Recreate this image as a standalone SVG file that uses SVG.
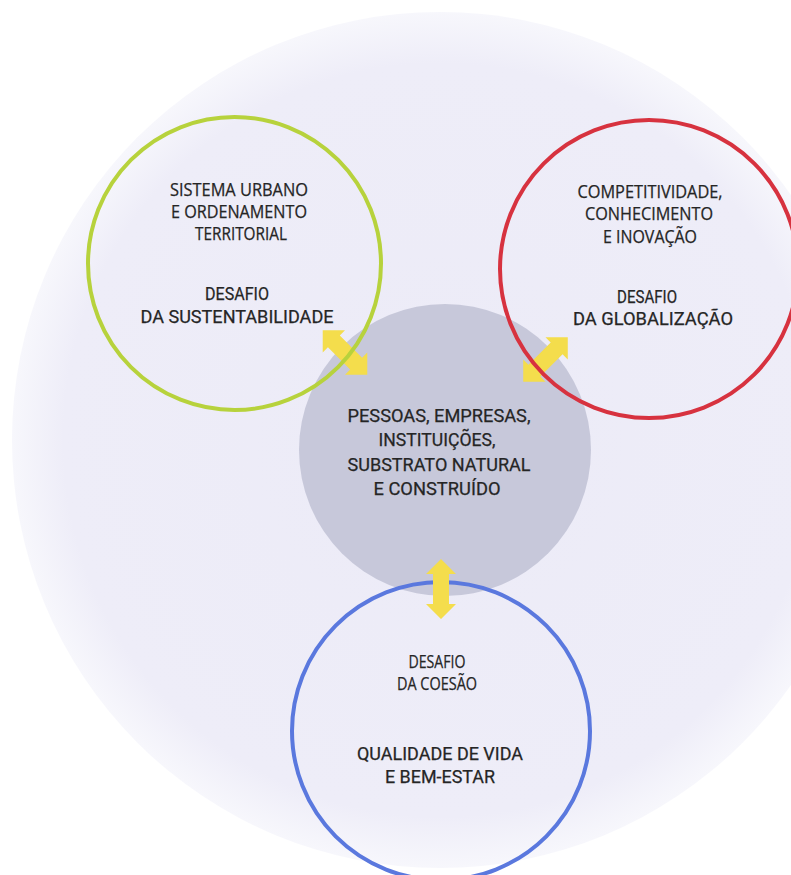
<svg xmlns="http://www.w3.org/2000/svg" xmlns:xlink="http://www.w3.org/1999/xlink" width="791" height="875" viewBox="0 0 791 875">
  <style>
    .ring { fill: none; stroke-width: 4; }
    .narrow { font-family: "Open Sans", "Liberation Sans", Arial, sans-serif; font-size: 17.5px; fill: #252525; stroke: #252525; stroke-width: 0.25; text-anchor: middle; }
    .din { font-family: "Roboto", "Liberation Sans", Arial, sans-serif; font-size: 18.5px; fill: #252525; stroke: #252525; stroke-width: 0.25; text-anchor: middle; }
    .arrow { fill: #f4dd4c; }
  </style>
  <defs>
    <radialGradient id="bgGrad" cx="0.5" cy="0.5" r="0.5">
      <stop offset="0" stop-color="#ecebf7"/>
      <stop offset="0.88" stop-color="#eeedf8"/>
      <stop offset="1" stop-color="#f7f7fc"/>
    </radialGradient>
    <polygon id="dblArrow" points="0,-30 15,-15 8,-15 8,15 15,15 0,30 -15,15 -8,15 -8,-15 -15,-15"/>
  </defs>

  <rect width="791" height="875" fill="#ffffff"/>
  <circle id="background" cx="440" cy="440" r="428" fill="url(#bgGrad)"/>

  <g id="center">
    <circle cx="445" cy="450" r="146" fill="#c7c8da"/>
    <text class="din" x="439" y="422" textLength="183" lengthAdjust="spacingAndGlyphs">PESSOAS, EMPRESAS,</text>
    <text class="din" x="437" y="446" textLength="117" lengthAdjust="spacingAndGlyphs">INSTITUIÇÕES,</text>
    <text class="din" x="439" y="471" textLength="183" lengthAdjust="spacingAndGlyphs">SUBSTRATO NATURAL</text>
    <text class="din" x="437" y="495" textLength="127" lengthAdjust="spacingAndGlyphs">E CONSTRUÍDO</text>
  </g>

  <g id="coesao">
    <circle class="ring" cx="441" cy="731" r="149" stroke="#5a78de"/>
    <text class="narrow" x="437" y="668" textLength="57" lengthAdjust="spacingAndGlyphs">DESAFIO</text>
    <text class="narrow" x="437" y="690" textLength="80" lengthAdjust="spacingAndGlyphs">DA COESÃO</text>
    <text class="din" x="440" y="760" textLength="166" lengthAdjust="spacingAndGlyphs">QUALIDADE DE VIDA</text>
    <text class="din" x="440" y="783" textLength="110" lengthAdjust="spacingAndGlyphs">E BEM-ESTAR</text>
  </g>

  <g id="connectors">
    <use xlink:href="#dblArrow" class="arrow" transform="translate(345,352.5) rotate(-45) scale(1.05)"/>
    <use xlink:href="#dblArrow" class="arrow" transform="translate(545.5,359.5) rotate(45) scale(1.05)"/>
    <use xlink:href="#dblArrow" class="arrow" transform="translate(441,589)"/>
  </g>

  <g id="sustentabilidade">
    <circle class="ring" cx="234.5" cy="263.5" r="146.5" stroke="#b7d23c"/>
    <text class="narrow" x="239" y="196" textLength="138" lengthAdjust="spacingAndGlyphs">SISTEMA URBANO</text>
    <text class="narrow" x="239" y="218" textLength="136" lengthAdjust="spacingAndGlyphs">E ORDENAMENTO</text>
    <text class="narrow" x="241" y="240" textLength="92" lengthAdjust="spacingAndGlyphs">TERRITORIAL</text>
    <text class="din" x="237" y="300" textLength="64" lengthAdjust="spacingAndGlyphs">DESAFIO</text>
    <text class="din" x="237" y="323" textLength="193" lengthAdjust="spacingAndGlyphs">DA SUSTENTABILIDADE</text>
  </g>

  <g id="globalizacao">
    <circle class="ring" cx="649" cy="269" r="149" stroke="#d7323f"/>
    <text class="narrow" x="650" y="198" textLength="145" lengthAdjust="spacingAndGlyphs">COMPETITIVIDADE,</text>
    <text class="narrow" x="649" y="220" textLength="128" lengthAdjust="spacingAndGlyphs">CONHECIMENTO</text>
    <text class="narrow" x="650" y="243" textLength="94" lengthAdjust="spacingAndGlyphs">E INOVAÇÃO</text>
    <text class="din" x="647" y="303" textLength="60" lengthAdjust="spacingAndGlyphs">DESAFIO</text>
    <text class="din" x="653" y="325" textLength="160" lengthAdjust="spacingAndGlyphs">DA GLOBALIZAÇÃO</text>
  </g>
</svg>
